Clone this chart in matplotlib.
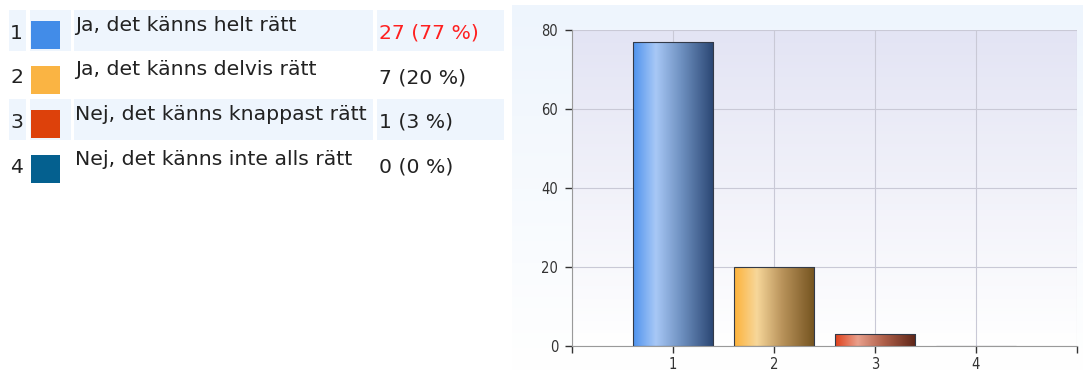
import numpy as np
import matplotlib
matplotlib.use("Agg")
import matplotlib.pyplot as plt
from matplotlib.colors import LinearSegmentedColormap
from matplotlib.patches import Rectangle

# Daten
nummer = ["1", "2", "3", "4"]
svar = ["Ja, det känns helt rätt", "Ja, det känns delvis rätt",
        "Nej, det känns knappast rätt", "Nej, det känns inte alls rätt"]
antal = [27, 7, 1, 0]
procent = [77, 20, 3, 0]
farger = ["#428ce8", "#fab443", "#dd410b", "#04608f"]
y_ticks = [0, 20, 40, 60, 80]

# Gradienter fuer die Balken (links hell, rechts dunkel)
bar_grads = [
    ["#4f93ee", "#a8c8f6", "#6e90c0", "#2a4673"],
    ["#fdb23a", "#f7d79a", "#b8925a", "#74531f"],
    ["#e0411c", "#e9a08c", "#b0604a", "#5e2618"],
    ["#04608f", "#6aa0c0", "#034a70", "#022a40"],
]

W, H = 1083, 374
fig = plt.figure(figsize=(W / 100, H / 100), dpi=100)
fig.patch.set_facecolor("white")

# Tabelle links
tab = fig.add_axes([0, 0, 1, 1])
tab.set_xlim(0, W)
tab.set_ylim(H, 0)
tab.axis("off")

row_h = 44.7
shade = "#eef5fd"
fs = 14.7
for i in range(len(svar)):
    top = 10 + i * row_h
    if i % 2 == 0:
        for x0, x1 in [(9, 26), (30, 71), (74, 373), (377, 504)]:
            tab.add_patch(Rectangle((x0, top), x1 - x0, 41, color=shade, lw=0))
    tab.add_patch(Rectangle((31, top + 11), 29, 28, color=farger[i], lw=0))
    tab.text(10, top + 23, nummer[i], fontsize=fs, va="center", ha="left", color="#222222")
    tab.text(75, top + 15, svar[i], fontsize=fs, va="center", ha="left", color="#222222")
    col = "#ff2020" if i == 0 else "#222222"
    tab.text(379, top + 23, f"{antal[i]} ({procent[i]} %)", fontsize=fs,
             va="center", ha="left", color=col)

# Hintergrund Diagrammbereich
bg = fig.add_axes([512 / W, 0, (W - 512) / W, 1 - 5 / H], zorder=0)
bg.axis("off")
cm_bg = LinearSegmentedColormap.from_list("bg", ["#eef5fd", "#ffffff"])
bg.imshow(np.linspace(0, 1, 100).reshape(-1, 1), cmap=cm_bg, aspect="auto",
          extent=[0, 1, 0, 1], transform=bg.transAxes)

ax = fig.add_axes([572 / W, 1 - 346 / H, (1077 - 572) / W, (346 - 30) / H], zorder=1)
cm_ax = LinearSegmentedColormap.from_list("ax", ["#ffffff", "#e3e4f4"])
ax.imshow(np.linspace(0, 1, 100).reshape(-1, 1), cmap=cm_ax, aspect="auto",
          extent=[0, 1, 0, 1], transform=ax.transAxes, origin="lower", zorder=0)
ax.set_facecolor("none")

x = np.arange(1, len(procent) + 1)
bars = ax.bar(x, procent, width=0.8, color="none", edgecolor="#333a48", lw=0.8, zorder=3)
for b, g in zip(bars, bar_grads):
    if b.get_height() <= 0:
        continue
    cm = LinearSegmentedColormap.from_list("b", list(zip([0, 0.28, 0.6, 1], g)))
    im = ax.imshow(np.linspace(0, 1, 200).reshape(1, -1), cmap=cm, aspect="auto",
                   extent=[b.get_x(), b.get_x() + b.get_width(), 0, b.get_height()],
                   zorder=2)
    im.set_clip_path(b)

# Ticks auch an den Enden, Beschriftung nur 1-4
ax.set_xticks(np.arange(0, len(nummer) + 2))
ax.set_xticklabels([""] + nummer + [""])
ax.set_yticks(y_ticks)
ax.grid(True, color="#c9c9d6", lw=0.8, zorder=1)
ax.set_axisbelow(True)
for s in ["top", "right"]:
    ax.spines[s].set_visible(False)
for s in ["left", "bottom"]:
    ax.spines[s].set_color("#9a9a9a")
ax.tick_params(axis="both", length=5, color="#333333", labelsize=10.5,
               labelcolor="#333333", width=1)
ax.tick_params(axis="y", pad=5)
ax.tick_params(axis="x", pad=3)
for lab in ax.get_xticklabels() + ax.get_yticklabels():
    lab.set_fontstretch("condensed")
ax.set_xlim(0, 5)
ax.set_ylim(0, 80)

fig.savefig("out.png", dpi=100)
